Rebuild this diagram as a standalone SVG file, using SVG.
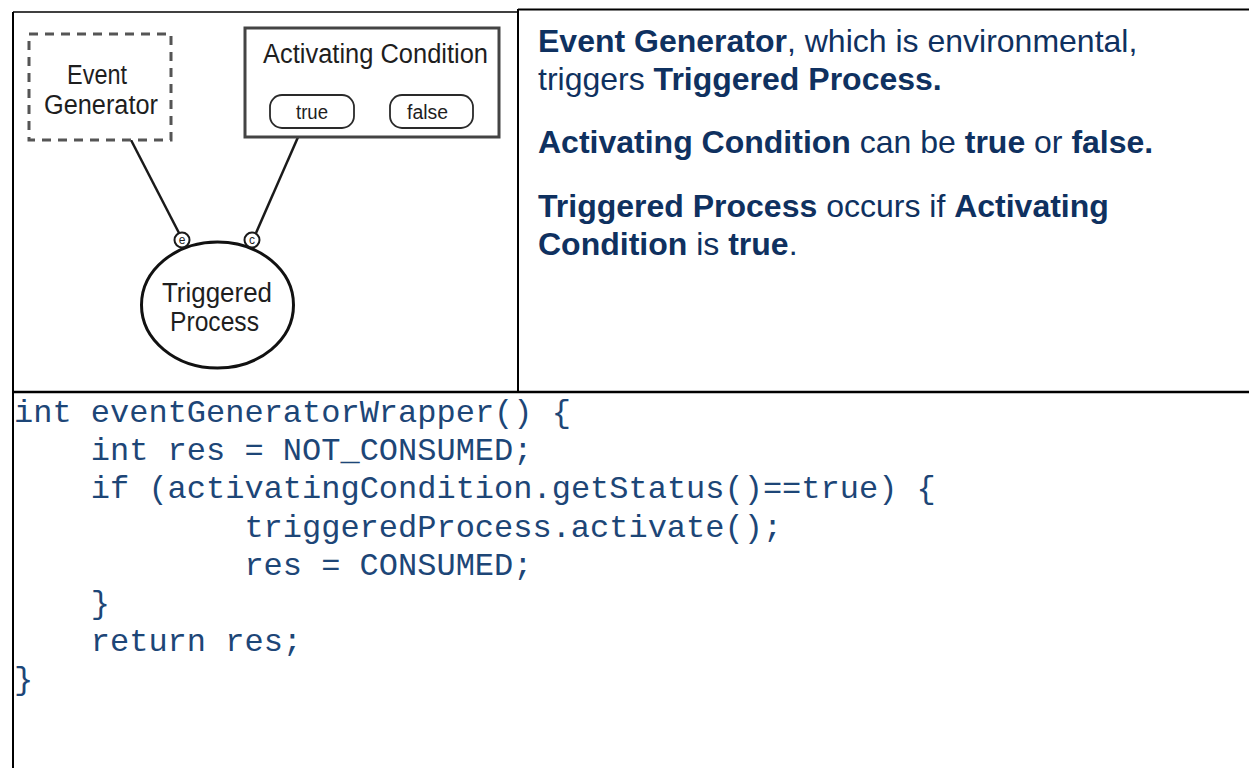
<svg xmlns="http://www.w3.org/2000/svg" width="1249" height="768" viewBox="0 0 1249 768">
  <defs>
    <style>
      .fig { font-family: "Liberation Sans", Arial, sans-serif; fill: #1e1e1e; }
      .note { font-family: "Liberation Sans", Arial, sans-serif; font-size: 32px; fill: #0f3160; }
      .note .b { font-weight: bold; }
      .code { font-family: "Liberation Mono", "Courier New", monospace; font-size: 32px; fill: #1d4677; }
      .frame { fill: none; stroke: #000; }
      .edge { stroke: #1a1a1a; stroke-width: 2.5; fill: none; }
      .port { fill: #fff; stroke: #1a1a1a; stroke-width: 2; }
      .pill { fill: #fff; stroke: #2a2a2a; stroke-width: 1.8; }
    </style>
  </defs>

  <rect width="1249" height="768" fill="#fff"/>

  <!-- panel frames -->
  <g id="frames">
    <line class="frame" x1="13" y1="12" x2="517" y2="12" stroke="#444" stroke-width="1.5"/>
    <line class="frame" x1="518" y1="9.5" x2="1249" y2="9.5" stroke-width="2"/>
    <line class="frame" x1="518" y1="9" x2="518" y2="392" stroke-width="2"/>
    <line class="frame" x1="12" y1="392" x2="1249" y2="392" stroke-width="2.5"/>
    <line class="frame" x1="13" y1="12" x2="13" y2="768" stroke-width="2"/>
  </g>

  <!-- connectors -->
  <g id="connectors">
    <line class="edge" x1="131" y1="140" x2="179" y2="233"/>
    <line class="edge" x1="302" y1="128" x2="256" y2="233"/>
  </g>

  <g id="event-generator">
    <rect x="29" y="34" width="142" height="106" fill="#fff" stroke="#555" stroke-width="3" stroke-dasharray="9 7"/>
    <text class="fig" x="67" y="84" font-size="27" textLength="60" lengthAdjust="spacingAndGlyphs">Event</text>
    <text class="fig" x="44" y="114" font-size="27" textLength="114" lengthAdjust="spacingAndGlyphs">Generator</text>
  </g>

  <g id="activating-condition">
    <rect x="245" y="28" width="254" height="109" fill="#fff" stroke="#444" stroke-width="3"/>
    <text class="fig" x="263" y="63" font-size="27" textLength="225" lengthAdjust="spacingAndGlyphs">Activating Condition</text>
    <g id="state-true">
      <rect class="pill" x="270" y="95" width="84" height="33" rx="12"/>
      <text class="fig" x="296" y="119" font-size="20" textLength="32" lengthAdjust="spacingAndGlyphs">true</text>
    </g>
    <g id="state-false">
      <rect class="pill" x="390" y="95" width="83" height="33" rx="12"/>
      <text class="fig" x="407" y="119" font-size="20" textLength="41" lengthAdjust="spacingAndGlyphs">false</text>
    </g>
  </g>

  <g id="triggered-process">
    <ellipse cx="217.5" cy="305" rx="76" ry="63" fill="#fff" stroke="#111" stroke-width="3"/>
    <text class="fig" x="162" y="302" font-size="27" textLength="110" lengthAdjust="spacingAndGlyphs">Triggered</text>
    <text class="fig" x="170" y="331" font-size="27" textLength="89" lengthAdjust="spacingAndGlyphs">Process</text>
  </g>

  <g id="port-e">
    <circle class="port" cx="182" cy="240" r="7.5"/>
    <text class="fig" x="182" y="244" font-size="12" text-anchor="middle">e</text>
  </g>
  <g id="port-c">
    <circle class="port" cx="252" cy="240" r="7.5"/>
    <text class="fig" x="252" y="244" font-size="12" text-anchor="middle">c</text>
  </g>

  <!-- description -->
  <g id="description" class="note">
    <text x="538" y="52"><tspan class="b">Event Generator</tspan>, which is environmental,</text>
    <text x="538" y="89.5">triggers <tspan class="b">Triggered Process.</tspan></text>
    <text x="538" y="153"><tspan class="b">Activating Condition</tspan> can be <tspan class="b">true</tspan> or <tspan class="b">false.</tspan></text>
    <text x="538" y="217"><tspan class="b">Triggered Process</tspan> occurs if <tspan class="b">Activating</tspan></text>
    <text x="538" y="254.5"><tspan class="b">Condition</tspan> is <tspan class="b">true</tspan>.</text>
  </g>

  <!-- code listing: one column = 19.2px, indents of 4 and 12 columns -->
  <g id="code" class="code">
    <text x="14" y="422">int eventGeneratorWrapper() {</text>
    <text x="90.8" y="460">int res = NOT_CONSUMED;</text>
    <text x="90.8" y="498">if (activatingCondition.getStatus()==true) {</text>
    <text x="244.4" y="536.5">triggeredProcess.activate();</text>
    <text x="244.4" y="574.5">res = CONSUMED;</text>
    <text x="90.8" y="612.5">}</text>
    <text x="90.8" y="650.5">return res;</text>
    <text x="14" y="689">}</text>
  </g>
</svg>
